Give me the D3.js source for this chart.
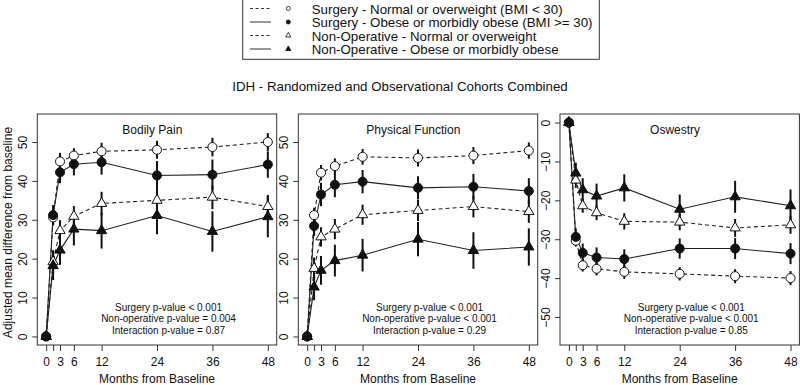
<!DOCTYPE html>
<html>
<head>
<meta charset="utf-8">
<script src="https://cdn.jsdelivr.net/npm/d3@7"></script>
<style>
  body { margin: 0; background: #fff; }
  text { font-family: "Liberation Sans", Arial, sans-serif; fill: #111; }
</style>
</head>
<body>
<div id="chart"></div>
<script>
// Months of follow-up (1.5 = 6 weeks)
const months = [0, 1.5, 3, 6, 12, 24, 36, 48];
const monthTicks = [0, 1.5, 3, 6, 12, 24, 36, 48];
const monthLabels = ["0", "", "3", "6", "12", "24", "36", "48"];

const seriesNames = [
  "Surgery - Normal or overweight (BMI < 30)",
  "Surgery - Obese or morbidly obese (BMI >= 30)",
  "Non-Operative - Normal or overweight",
  "Non-Operative - Obese or morbidly obese"
];

// Bodily Pain
const bpSurgNormal  = [0, 30.6, 45.0, 46.5, 47.6, 48.0, 48.7, 50.0];
const bpSurgObese   = [0, 31.2, 42.2, 44.3, 44.8, 41.4, 41.6, 44.2];
const bpNonNormal   = [0, 19.2, 27.2, 30.9, 34.2, 35.0, 35.8, 33.4];
const bpNonObese    = [0, 18.2, 22.2, 27.6, 27.2, 31.1, 27.0, 30.8];
const bpSurgNormalCI = [0, 2.0, 2.2, 1.9, 2.2, 2.3, 2.4, 2.3];
const bpSurgObeseCI  = [0, 2.6, 2.8, 2.9, 3.2, 3.7, 3.9, 3.4];
const bpNonNormalCI  = [0, 3.0, 2.7, 2.6, 3.0, 3.0, 3.1, 3.0];
const bpNonObeseCI   = [0, 3.7, 3.8, 4.2, 4.6, 4.8, 5.2, 5.3];

// Physical Function
const pfSurgNormal  = [0, 31.2, 42.1, 43.8, 46.2, 45.9, 46.5, 47.8];
const pfSurgObese   = [0, 28.4, 36.5, 39.0, 39.8, 38.2, 38.5, 37.4];
const pfNonNormal   = [0, 17.5, 25.6, 27.6, 31.3, 32.4, 33.4, 32.1];
const pfNonObese    = [0, 12.7, 17.0, 19.5, 20.9, 25.0, 22.1, 23.0];
const pfSurgNormalCI = [0, 1.9, 2.0, 2.0, 2.0, 2.2, 2.2, 2.1];
const pfSurgObeseCI  = [0, 2.6, 3.0, 3.2, 3.0, 3.0, 3.3, 3.3];
const pfNonNormalCI  = [0, 2.8, 2.5, 2.6, 2.6, 2.7, 2.8, 2.9];
const pfNonObeseCI   = [0, 3.4, 3.7, 4.1, 4.2, 4.4, 4.7, 4.8];

// Oswestry
const odSurgNormal  = [0, -30.4, -36.7, -37.6, -38.4, -38.9, -39.5, -40.0];
const odSurgObese   = [0, -29.4, -33.5, -34.7, -35.1, -32.4, -32.4, -33.7];
const odNonNormal   = [0, -14.8, -21.4, -23.2, -25.4, -25.6, -27.1, -26.3];
const odNonObese    = [0, -13.0, -17.3, -18.9, -16.8, -22.3, -19.1, -21.4];
const odSurgNormalCI = [0, 1.5, 1.6, 1.7, 1.8, 1.7, 1.8, 1.8];
const odSurgObeseCI  = [0, 2.2, 2.4, 2.6, 2.5, 2.6, 2.7, 2.7];
const odNonNormalCI  = [0, 2.0, 1.8, 1.9, 2.1, 2.1, 2.3, 2.3];
const odNonObeseCI   = [0, 2.7, 3.0, 3.2, 3.5, 3.8, 4.1, 4.2];

const panelTitles = ["Bodily Pain", "Physical Function", "Oswestry"];
const pValues = [
  ["Surgery p-value < 0.001", "Non-operative p-value = 0.004", "Interaction p-value = 0.87"],
  ["Surgery p-value < 0.001", "Non-operative p-value < 0.001", "Interaction p-value = 0.29"],
  ["Surgery p-value < 0.001", "Non-operative p-value < 0.001", "Interaction p-value = 0.85"]
];
const yTicksPos = [0, 10, 20, 30, 40, 50];
const yTicksNeg = [0, -10, -20, -30, -40, -50];

const panels = [
  { title: panelTitles[0], p: pValues[0], ylim: [0, 55], ticks: yTicksPos,
    values: [bpSurgNormal, bpSurgObese, bpNonNormal, bpNonObese],
    ci: [bpSurgNormalCI, bpSurgObeseCI, bpNonNormalCI, bpNonObeseCI] },
  { title: panelTitles[1], p: pValues[1], ylim: [0, 55], ticks: yTicksPos,
    values: [pfSurgNormal, pfSurgObese, pfNonNormal, pfNonObese],
    ci: [pfSurgNormalCI, pfSurgObeseCI, pfNonNormalCI, pfNonObeseCI] },
  { title: panelTitles[2], p: pValues[2], ylim: [-55, 0], ticks: yTicksNeg,
    values: [odSurgNormal, odSurgObese, odNonNormal, odNonObese],
    ci: [odSurgNormalCI, odSurgObeseCI, odNonNormalCI, odNonObeseCI] }
];

// series styles: dashed / open for normal weight, solid / filled for obese
const styles = [
  { dash: "4,3", shape: d3.symbolCircle, fill: "#fff" },
  { dash: null,  shape: d3.symbolCircle, fill: "#111" },
  { dash: "4,3", shape: d3.symbolTriangle, fill: "#fff" },
  { dash: null,  shape: d3.symbolTriangle, fill: "#111" }
];

const W = 800, H = 385;
const svg = d3.select("#chart").append("svg")
  .attr("width", W).attr("height", H)
  .style("background", "#fff");

const panelLeft = [37.3, 298.3, 560];
const panelW = 239.4, plotTop = 114, plotBottom = 345;

// pad domains the way R does (4% each side)
function pad(lim) {
  const d = (lim[1] - lim[0]) * 0.04;
  return [lim[0] - d, lim[1] + d];
}

panels.forEach((pn, pi) => {
  const left = panelLeft[pi];
  const x = d3.scaleLinear().domain(pad([0, 48])).range([left, left + panelW]);
  const y = d3.scaleLinear().domain(pad(pn.ylim)).range([plotBottom, plotTop]);
  const g = svg.append("g");

  // box
  g.append("rect")
    .attr("x", left).attr("y", plotTop)
    .attr("width", panelW).attr("height", plotBottom - plotTop)
    .attr("fill", "none").attr("stroke", "#333").attr("stroke-width", 1);

  // y axis
  const ya = g.append("g")
    .attr("transform", `translate(${left},0)`)
    .call(d3.axisLeft(y).tickValues(pn.ticks).tickSize(5).tickFormat(d3.format("d")));
  ya.select(".domain").remove();
  ya.selectAll("line").attr("stroke", "#333");
  ya.selectAll(".tick text")
    .attr("x", null).attr("dy", null).attr("y", null)
    .attr("transform", "translate(-14.5,0) rotate(-90)")
    .attr("text-anchor", "middle")
    .attr("dominant-baseline", "central")
    .style("font-size", "12px")
    .style("font-family", "'Liberation Sans', Arial, sans-serif")
    .attr("fill", "#111");

  // x axis
  const xa = g.append("g")
    .attr("transform", `translate(0,${plotBottom})`)
    .call(d3.axisBottom(x).tickValues(monthTicks).tickSize(6).tickPadding(6)
      .tickFormat((d, i) => monthLabels[i]));
  xa.select(".domain").remove();
  xa.selectAll("line").attr("stroke", "#333");
  xa.selectAll("text")
    .style("font-size", "12px")
    .style("font-family", "'Liberation Sans', Arial, sans-serif")
    .attr("fill", "#111");

  g.append("text")
    .attr("x", left + panelW / 2).attr("y", 378.5)
    .attr("text-anchor", "middle")
    .attr("dominant-baseline", "central")
    .style("font-size", "12px")
    .text("Months from Baseline");

  // panel title
  g.append("text")
    .attr("x", x(23)).attr("y", plotTop + 19.5)
    .attr("text-anchor", "middle")
    .style("font-size", "12px")
    .text(pn.title);

  // p-values
  pn.p.forEach((t, i) => {
    g.append("text")
      .attr("x", x(26.5)).attr("y", 310.5 + i * 11.5)
      .attr("text-anchor", "middle")
      .style("font-size", "10px")
      .text(t);
  });

  const line = d3.line().x((d, i) => x(months[i])).y(d => y(d));

  // lines
  pn.values.forEach((vals, si) => {
    g.append("path")
      .datum(vals)
      .attr("d", line)
      .attr("fill", "none")
      .attr("stroke", "#222")
      .attr("stroke-width", 1.1)
      .attr("stroke-dasharray", styles[si].dash);
  });

  // error bars
  pn.values.forEach((vals, si) => {
    g.selectAll(null)
      .data(vals.map((v, i) => ({ m: months[i], v, e: pn.ci[si][i] })).filter(d => d.e > 0))
      .enter().append("line")
      .attr("x1", d => x(d.m)).attr("x2", d => x(d.m))
      .attr("y1", d => y(d.v - d.e)).attr("y2", d => y(d.v + d.e))
      .attr("stroke", "#111")
      .attr("stroke-width", 2);
  });

  // points
  pn.values.forEach((vals, si) => {
    const st = styles[si];
    g.selectAll(null)
      .data(vals)
      .enter().append("path")
      .attr("d", d3.symbol().type(st.shape).size(st.shape === d3.symbolCircle ? 64 : 46))
      .attr("transform", (d, i) => `translate(${x(months[i])},${y(d)})`)
      .attr("fill", st.fill)
      .attr("stroke", "#111")
      .attr("stroke-width", 1);
  });
});

// shared y label
svg.append("text")
  .attr("transform", `translate(8,${(plotTop + plotBottom) / 2 + 3}) rotate(-90)`)
  .attr("text-anchor", "middle")
  .attr("dominant-baseline", "central")
  .style("font-size", "12px")
  .text("Adjusted mean difference from baseline");

// main title
svg.append("text")
  .attr("x", 400).attr("y", 91)
  .attr("text-anchor", "middle")
  .style("font-size", "13.3px")
  .text("IDH - Randomized and Observational Cohorts Combined");

// legend
const lg = svg.append("g");
lg.append("rect")
  .attr("x", 242.7).attr("y", -1)
  .attr("width", 356.6).attr("height", 60.3)
  .attr("fill", "#fff").attr("stroke", "#333").attr("stroke-width", 1);
seriesNames.forEach((name, i) => {
  const yy = 8.5 + i * 13.5;
  const st = styles[i];
  lg.append("line")
    .attr("x1", 250).attr("x2", 271)
    .attr("y1", yy).attr("y2", yy)
    .attr("stroke", "#333").attr("stroke-width", 1)
    .attr("stroke-dasharray", st.dash ? "3,2.5" : null);
  lg.append("path")
    .attr("d", d3.symbol().type(st.shape).size(st.shape === d3.symbolCircle ? 13 : 12))
    .attr("transform", `translate(288.3,${yy})`)
    .attr("fill", st.fill).attr("stroke", "#111").attr("stroke-width", 0.8);
  lg.append("text")
    .attr("x", 311.7).attr("y", yy + 5)
    .style("font-size", "13.3px")
    .text(name);
});
</script>
</body>
</html>
